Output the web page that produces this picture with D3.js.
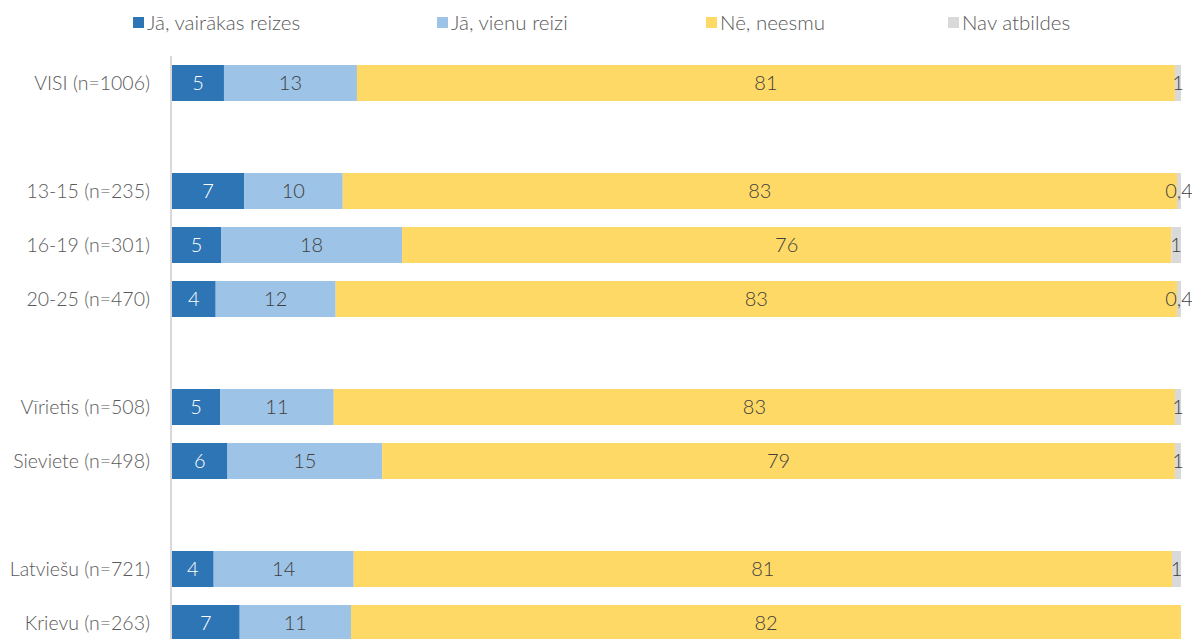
<!DOCTYPE html>
<html>
<head>
<meta charset="utf-8">
<script src="https://cdn.jsdelivr.net/npm/d3@7"></script>
<style>
  html, body { margin: 0; padding: 0; background: #fff; }
  svg { display: block; }
  text { font-family: Lato, "Open Sans", sans-serif; }
</style>
</head>
<body>
<svg id="chart" width="1192" height="639"></svg>
<script>
// Rows (blank strings are spacer rows between groups)
const categories = ["VISI (n=1006)", "", "13-15 (n=235)", "16-19 (n=301)", "20-25 (n=470)", " ", "Vīrietis (n=508)", "Sieviete (n=498)", "  ", "Latviešu (n=721)", "Krievu (n=263)"];
const seriesNames = ["Jā, vairākas reizes", "Jā, vienu reizi", "Nē, neesmu", "Nav atbildes"];
const seriesColors = ["#2E75B6", "#9DC3E6", "#FFD966", "#D9D9D9"];
// values per series, aligned with categories (null = spacer row)
const vairakas = [5.15, null, 7.14, 4.86, 4.33, null, 4.76, 5.5, null, 4.13, 6.71];
const vienu    = [13.18, null, 9.78, 17.94, 11.89, null, 11.27, 15.33, null, 13.88, 11.03];
const ne       = [81.07, null, 82.68, 76.24, 83.38, null, 83.38, 78.57, null, 81.10, 82.26];
const navAtb   = [0.6, null, 0.4, 0.96, 0.4, null, 0.6, 0.6, null, 0.89, 0];
const seriesValues = [vairakas, vienu, ne, navAtb];

const svg = d3.select("#chart");
const x = d3.scaleLinear().domain([0, 100]).range([172, 1181]);
const y = d3.scaleBand().domain(categories).range([56, 650]).paddingInner(1/3).paddingOuter(1/6);

const fmt = v => v < 0.5 ? d3.format(".1f")(v).replace(".", ",") : String(Math.round(v));

// axis line
svg.append("line")
  .attr("x1", 171).attr("x2", 171)
  .attr("y1", y.range()[0]).attr("y2", y.range()[1])
  .attr("stroke", "#D9D9D9").attr("stroke-width", 2);

// stacked bars
categories.forEach((cat, i) => {
  if (vairakas[i] === null) return;
  let cum = 0;
  seriesValues.forEach((arr, s) => {
    const v = arr[i];
    const x0 = x(cum), x1 = x(cum + v);
    cum += v;
    if (v <= 0) return;
    svg.append("rect")
      .attr("x", x0).attr("y", y(cat))
      .attr("width", x1 - x0).attr("height", y.bandwidth())
      .attr("fill", seriesColors[s]);
    svg.append("text")
      .attr("x", (x0 + x1) / 2)
      .attr("y", y(cat) + y.bandwidth() / 2)
      .attr("dy", "0.36em")
      .attr("text-anchor", "middle")
      .attr("font-size", 20)
      .attr("font-weight", 300)
      .attr("fill", s === 0 ? "#FFFFFF" : "#404040")
      .text(fmt(v));
  });
  svg.append("text")
    .attr("x", 150)
    .attr("y", y(cat) + y.bandwidth() / 2)
    .attr("dy", "0.36em")
    .attr("text-anchor", "end")
    .attr("font-size", 19.5)
    .attr("font-weight", 300)
    .attr("fill", "#595959")
    .text(cat);
});

// legend
const legendX = [133, 437, 706, 948];
seriesNames.forEach((name, s) => {
  svg.append("rect")
    .attr("x", legendX[s]).attr("y", 17)
    .attr("width", 11).attr("height", 11)
    .attr("fill", seriesColors[s]);
  svg.append("text")
    .attr("x", legendX[s] + 14).attr("y", 23)
    .attr("dy", "0.36em")
    .attr("font-size", 20.5)
    .attr("font-weight", 300)
    .attr("fill", "#595959")
    .text(name);
});
</script>
</body>
</html>
